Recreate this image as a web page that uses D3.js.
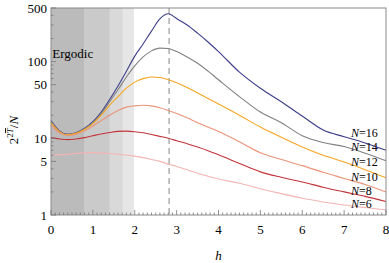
<!DOCTYPE html>
<html><head><meta charset="utf-8">
<script src="https://cdn.jsdelivr.net/npm/d3@7"></script>
<style>body{margin:0;background:#fff}svg{display:block}</style>
</head><body><svg id="c" width="389" height="263" font-family="'Liberation Serif', 'DejaVu Serif', serif"></svg>
<script>
const hValues = [0,0.2,0.4,0.6,0.8,1.0,1.2,1.4,1.6,1.8,2.0,2.2,2.4,2.6,2.8,3.0,3.25,3.5,3.75,4,4.5,5,5.5,6,6.5,7,7.5,8];
const seriesN = [16,14,12,10,8,6];
const n16 = [17,12.5,11.3,11.8,13.5,16.5,22,32,48,75,118,170,250,360,420,365,300,235,180,135,73,45,30,19.5,12.8,10.5,8.7,7.0];
const n14 = [16.5,12.3,11.2,11.7,13.3,16,21,30,43,63,88,115,138,150,148,135,115,95,75,58,35,22,16,10.8,8.8,7.8,6.4,5.1];
const n12 = [16,12.2,11.1,11.6,13,15.5,20,27,35,45,54,60,63,62,58,53,46,39,33,28,20,14,10.3,7.7,6.0,4.9,3.9,3.05];
const n10 = [15,11.8,10.9,11.3,12.5,14.5,17,20,23,25.5,26.5,27,26.5,25,23,21,18.5,16,14,12.3,9,6.5,5.3,4.4,3.6,3.0,2.5,2.0];
const n8  = [10.2,9.8,9.6,9.8,10.2,10.8,11.4,11.9,12.3,12.4,12.2,11.8,11.2,10.6,10,9.3,8.5,7.7,6.9,6.1,4.7,3.65,3.1,2.7,2.3,2.0,1.75,1.5];
const n6  = [6.0,6.1,6.2,6.35,6.45,6.5,6.45,6.35,6.2,6.05,5.85,5.6,5.3,5.0,4.6,4.3,3.9,3.5,3.2,2.95,2.6,2.2,1.9,1.65,1.48,1.35,1.25,1.16];
const seriesValues = [n16,n14,n12,n10,n8,n6];
const seriesColors = ["#3d3d8a","#808080","#f5a623","#ea9478","#c3343a","#f4b4b4"];
const ergodicBounds = [0.79,1.40,1.71,1.98];
const bandColors = ["#bbbbbb","#cacaca","#d9d9d9","#e6e6e6"];
const hPeak = 2.82;
const yTickValues = [1,5,10,50,100,500];
const xTickValues = [0,1,2,3,4,5,6,7,8];

const svg = d3.select("#c");
const L=51,R=386,T=8,B=215;
const x = d3.scaleLinear().domain([0,8]).range([L,R]);
const y = d3.scaleLog().domain([1,500]).range([B,T]);

for (let i=ergodicBounds.length-1;i>=0;i--){
  svg.append("rect").attr("x",x(0)).attr("y",T).attr("width",x(ergodicBounds[i])-x(0)).attr("height",B-T).attr("fill",bandColors[i]);
}
svg.append("text").attr("x",x(0.52)).attr("y",y(125)+4).attr("text-anchor","middle").attr("font-size",13).text("Ergodic");

svg.append("line").attr("x1",x(hPeak)).attr("x2",x(hPeak)).attr("y1",T).attr("y2",B)
  .attr("stroke","#9a9a9a").attr("stroke-width",1.2).attr("stroke-dasharray","6,4");

const line = d3.line().x((d,i)=>x(hValues[i])).y(d=>y(d)).curve(d3.curveMonotoneX);
seriesValues.forEach((vals,k)=>{
  svg.append("path").datum(vals).attr("d",line).attr("fill","none").attr("stroke",seriesColors[k]).attr("stroke-width",1.1);
});

svg.append("rect").attr("x",L).attr("y",T).attr("width",R-L).attr("height",B-T).attr("fill","none").attr("stroke","#8a8a8a").attr("stroke-width",1);

const xMinor = d3.range(0,8.001,0.1);
svg.append("g").selectAll("line").data(xMinor).join("line")
  .attr("x1",d=>x(d)).attr("x2",d=>x(d)).attr("y1",B).attr("y2",d=>Math.abs(d-Math.round(d))<1e-6?B-5:B-2.5)
  .attr("stroke","#777").attr("stroke-width",0.8);
svg.append("g").selectAll("text").data(xTickValues).join("text")
  .attr("x",d=>x(d)).attr("y",234).attr("text-anchor","middle").attr("font-size",13).text(d=>d);

const yMinor = [];
[1,10,100].forEach(b=>{for(let m=1;m<10;m++){const v=b*m; if(v<=500) yMinor.push(v);}});
svg.append("g").selectAll("line").data(yMinor).join("line")
  .attr("x1",L).attr("x2",d=>yTickValues.includes(d)?L+5:L+2.5).attr("y1",d=>y(d)).attr("y2",d=>y(d))
  .attr("stroke","#777").attr("stroke-width",0.8);
svg.append("g").selectAll("text").data(yTickValues).join("text")
  .attr("x",47).attr("y",d=>y(d)+4.5).attr("text-anchor","end").attr("font-size",13).text(d=>d);

svg.append("text").attr("x",x(4)).attr("y",260).attr("text-anchor","middle").attr("font-size",13).attr("font-style","italic").text("h");
const yt = svg.append("text").attr("transform","translate(18,130) rotate(-90)").attr("text-anchor","middle").attr("font-size",13);
yt.append("tspan").text("2");
yt.append("tspan").attr("font-size",9).attr("dy",-5).text("2");
yt.append("tspan").attr("font-size",9).attr("font-style","italic").attr("text-decoration","overline").text("T");
yt.append("tspan").attr("dy",5).text("/");
yt.append("tspan").attr("font-style","italic").text("N");

const labelY = [137,151,166,181,195,208];
seriesN.forEach((n,k)=>{
  const t = svg.append("text").attr("x",351).attr("y",labelY[k]).attr("font-size",12);
  t.append("tspan").attr("font-style","italic").text("N");
  t.append("tspan").text("="+n);
});
</script></body></html>
